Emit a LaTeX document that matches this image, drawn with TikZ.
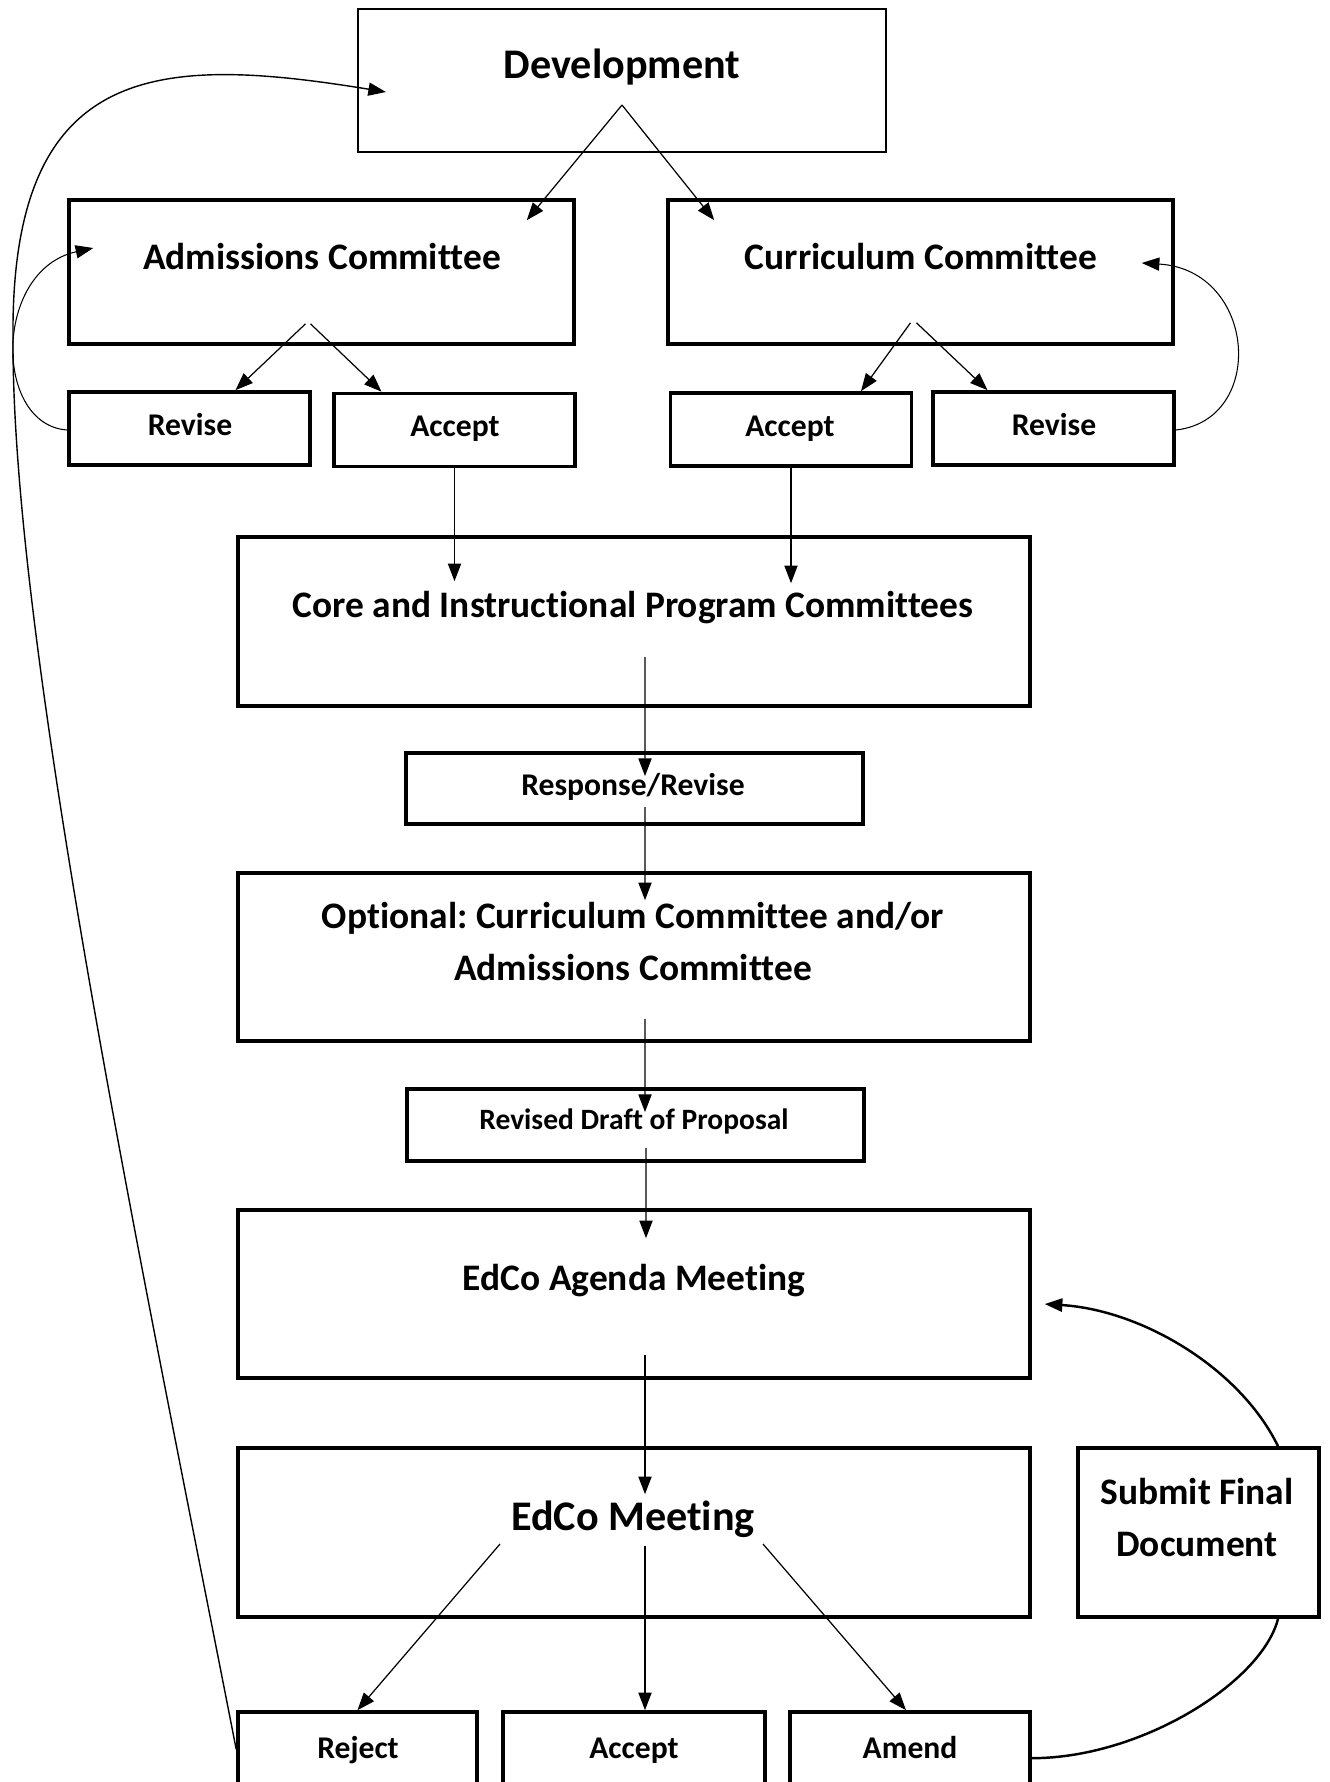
\documentclass[tikz,border=0pt]{standalone}
\usepackage{fontspec}
\setmainfont{Carlito}[Ligatures=CommonOff]
\frenchspacing
\usetikzlibrary{arrows.meta, calc}

\begin{document}
\begin{tikzpicture}[
    x=0.02cm, y=-0.02cm,
    box/.style={rectangle, draw=black, line width=2.1pt, inner sep=0pt},
    widebox/.style={box, minimum width=15.84cm, minimum height=3.36cm},
    choicebox/.style={box, minimum width=4.82cm, minimum height=1.46cm},
    notebox/.style={box, minimum width=9.14cm, minimum height=1.44cm},
    lbl/.style={inner sep=0pt, anchor=base, align=center, font=\fontsize{21.3}{29.5}\selectfont\bfseries},
    smalllbl/.style={lbl, font=\fontsize{18}{22}\selectfont\bfseries},
    biglbl/.style={lbl, font=\fontsize{24}{29}\selectfont\bfseries},
    arrow/.style={-{Triangle[length=10pt, width=7.5pt]}, line width=0.7pt},
    loopline/.style={arrow, line width=0.6pt},
    heavyline/.style={line width=1.4pt},
]
\useasboundingbox (0,0) rectangle (1329,1782);
\clip (0,0) rectangle (1329,1782);

% Development and the two committees
\node[box, line width=1.3pt, minimum width=10.56cm, minimum height=2.86cm] (dev) at (622,80.5) {};
\node[biglbl] (devtxt) at (622,78) {Development};

\node[box, minimum width=10.1cm, minimum height=2.88cm] (adm) at (321.5,272) {};
\node[lbl] (admtxt) at (322,269) {Admissions Committee};
\node[box, minimum width=10.1cm, minimum height=2.88cm] (cur) at (920.5,272) {};
\node[lbl] (curtxt) at (921,269) {Curriculum Committee};

\draw[arrow] ($(dev.center)+(0,24.5)$) -- ($(adm.north east)+(-49,22)$);
\draw[arrow] ($(dev.center)+(0,24.5)$) -- ($(cur.north west)+(48,22)$);

% Committee decisions
\node[choicebox] (admrev) at (189.5,428.5) {};
\node[smalllbl] (admrevtxt) at (190,435) {Revise};
\node[choicebox] (admacc) at (454.5,430) {};
\node[smalllbl] (admacctxt) at (455,436) {Accept};
\node[choicebox] (curacc) at (791,429.5) {};
\node[smalllbl] (curacctxt) at (790,436) {Accept};
\node[choicebox] (currev) at (1053.5,428.5) {};
\node[smalllbl] (currevtxt) at (1054,435) {Revise};

\draw[arrow] ($(adm.south)+(-16,-22)$) -- ($(admrev.north)+(46,0)$);
\draw[arrow] ($(adm.south)+(-11,-22)$) -- ($(admacc.north)+(-73,0)$);
\draw[arrow] ($(cur.south)+(-10,-23)$) -- ($(curacc.north)+(70,0)$);
\draw[arrow] ($(cur.south)+(-4,-23)$) -- ($(currev.north)+(-66,0)$);

% Revise loops back
\draw[loopline] ($(admrev.west)+(0,1.5)$) .. controls +(-74,-5) and +(-100,22) .. ($(adm.west)+(26,-24)$);
\draw[loopline] ($(currev.east)+(0,1.5)$) .. controls +(91,-10) and +(115,7) .. ($(cur.east)+(-33,-9)$);

% Core and optional review
\node[widebox, minimum height=3.38cm] (core) at (634,621.5) {};
\node[lbl] (coretxt) at (633,617) {Core and Instructional Program Committees};

\draw[arrow] (admacc.south) -- ($(admacc.south |- core.north)+(0,46)$);
\draw[arrow] (curacc.south) -- ($(curacc.south |- core.north)+(0,48)$);

\node[notebox, minimum height=1.42cm] (resp) at (634.5,788.5) {};
\node[smalllbl] (resptxt) at (633,795) {Response/Revise};

\node[widebox] (opt) at (634,957) {};
\node[lbl] (opttxt) at (633,980) {Optional: Curriculum Committee and/or\\Admissions Committee};

\node[notebox] (draft) at (635.5,1125) {};
\node[lbl, font=\fontsize{16.8}{20}\selectfont\bfseries] (drafttxt) at (634,1129) {Revised Draft of Proposal};

\draw[arrow] ($(core.center)+(11,35.5)$) -- ($(resp.center)+(10.5,-12.5)$);
\draw[arrow] ($(resp.center)+(10.5,18.5)$) -- ($(opt.north)+(11,29)$);
\draw[arrow] ($(opt.south)+(11,-24)$) -- ($(draft.center)+(9.5,-13)$);

% EdCo
\node[widebox] (agenda) at (634,1294) {};
\node[lbl] (agendatxt) at (634,1290) {EdCo Agenda Meeting};
\node[widebox, minimum height=3.38cm] (meet) at (634,1532.5) {};
\node[biglbl] (meettxt) at (633,1530) {EdCo Meeting};
\node[box, minimum width=4.82cm, minimum height=3.38cm] (submit) at (1198.5,1532.5) {};
\node[lbl] (submittxt) at (1197,1556) {Submit Final\\Document};

\draw[arrow] ($(draft.center)+(10.5,23)$) -- ($(agenda.north)+(12,30)$);
\draw[arrow] ($(agenda.south)+(11,-25)$) -- ($(meet.north)+(11,48)$);

% Outcomes
\node[box, minimum width=4.78cm, minimum height=2.8cm] (reject) at (357.5,1782) {};
\node[smalllbl] (rejecttxt) at (358,1758) {Reject};
\node[box, minimum width=5.24cm, minimum height=2.8cm] (final) at (634,1782) {};
\node[smalllbl] (finaltxt) at (634,1758) {Accept};
\node[box, minimum width=4.8cm, minimum height=2.8cm] (amend) at (910,1782) {};
\node[smalllbl] (amendtxt) at (910,1758) {Amend};

\draw[arrow] ($(meet.center)+(-134,11.5)$) -- (reject.north);
\draw[arrow] ($(meet.center)+(11,13.5)$) -- ($(final.north)+(11,0)$);
\draw[arrow] ($(meet.center)+(129,11.5)$) -- ($(amend.north)+(-4,0)$);

% Reject goes back to development
\coordinate (turn) at (13,340);
\draw[arrow, line width=0.8pt] ($(reject.north west)+(0,39)$) .. controls +(-88,-451) and +(-1,310) .. (turn)
    .. controls +(-3,-280) and +(-227,-37) .. ($(dev.west)+(29,11.5)$);

% Amend, submit, back to agenda
\draw[heavyline] ($(amend.north east)+(0,48)$) .. controls +(110,0) and +(-16,63) .. ($(submit.south)+(79.5,0)$);
\draw[arrow, heavyline] ($(submit.north)+(79.5,0)$) .. controls +(-38,-78) and +(97,6) .. ($(agenda.east)+(13,10)$);

\end{tikzpicture}
\end{document}
